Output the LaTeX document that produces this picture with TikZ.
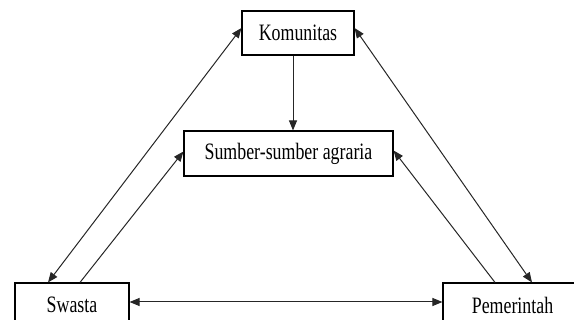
\documentclass[tikz,border=0pt]{standalone}
\usepackage{fontspec}
\setmainfont{Liberation Serif}[FakeStretch=0.76]
\usepackage{tikz}
\usetikzlibrary{arrows.meta,calc}

\begin{document}
\begin{tikzpicture}[x=1pt,y=-1pt,
    box/.style={draw,line width=1.1pt,inner sep=0pt,font=\fontsize{23.5pt}{27pt}\selectfont},
    link/.style={line width=1pt,draw=black!85},
    tip/.style={-{Triangle[length=10pt,width=8pt]}},
    tips/.style={{Triangle[length=10pt,width=8pt]}-{Triangle[length=10pt,width=8pt]}}]
    \useasboundingbox (0,0) rectangle (574,320);
    \clip (0,0) rectangle (574,320);
    % nodes
    \node[box,minimum width=112pt,minimum height=44pt] (kom) at (298,33) {Komunitas};
    \node[box,minimum width=209pt,minimum height=45pt] (sum) at (288.5,153.5) {Sumber-sumber agraria};
    \node[box,minimum width=114pt,minimum height=44pt] (swa) at (72,305) {Swasta};
    \node[box,minimum width=139pt,minimum height=44pt] (pem) at (512.5,305) {Pemerintah};
    % connectors
    \draw[link,tips] ([yshift=5pt]kom.west) -- ([xshift=-24pt]swa.north);
    \draw[link,tips] ([yshift=5pt]kom.east) -- ([xshift=19.5pt]pem.north);
    \draw[link,tip] ([xshift=8pt]swa.north) -- ([yshift=2pt]sum.west);
    \draw[link,tip] ([xshift=-17.5pt]pem.north) -- ([yshift=3pt]sum.east);
    \draw[link,tip] ([xshift=-5pt]kom.south) -- ([xshift=-5pt]kom.south |- sum.north);
    \draw[link,tips] ([yshift=3pt]swa.east) -- ([yshift=3pt]pem.west);
\end{tikzpicture}
\end{document}
